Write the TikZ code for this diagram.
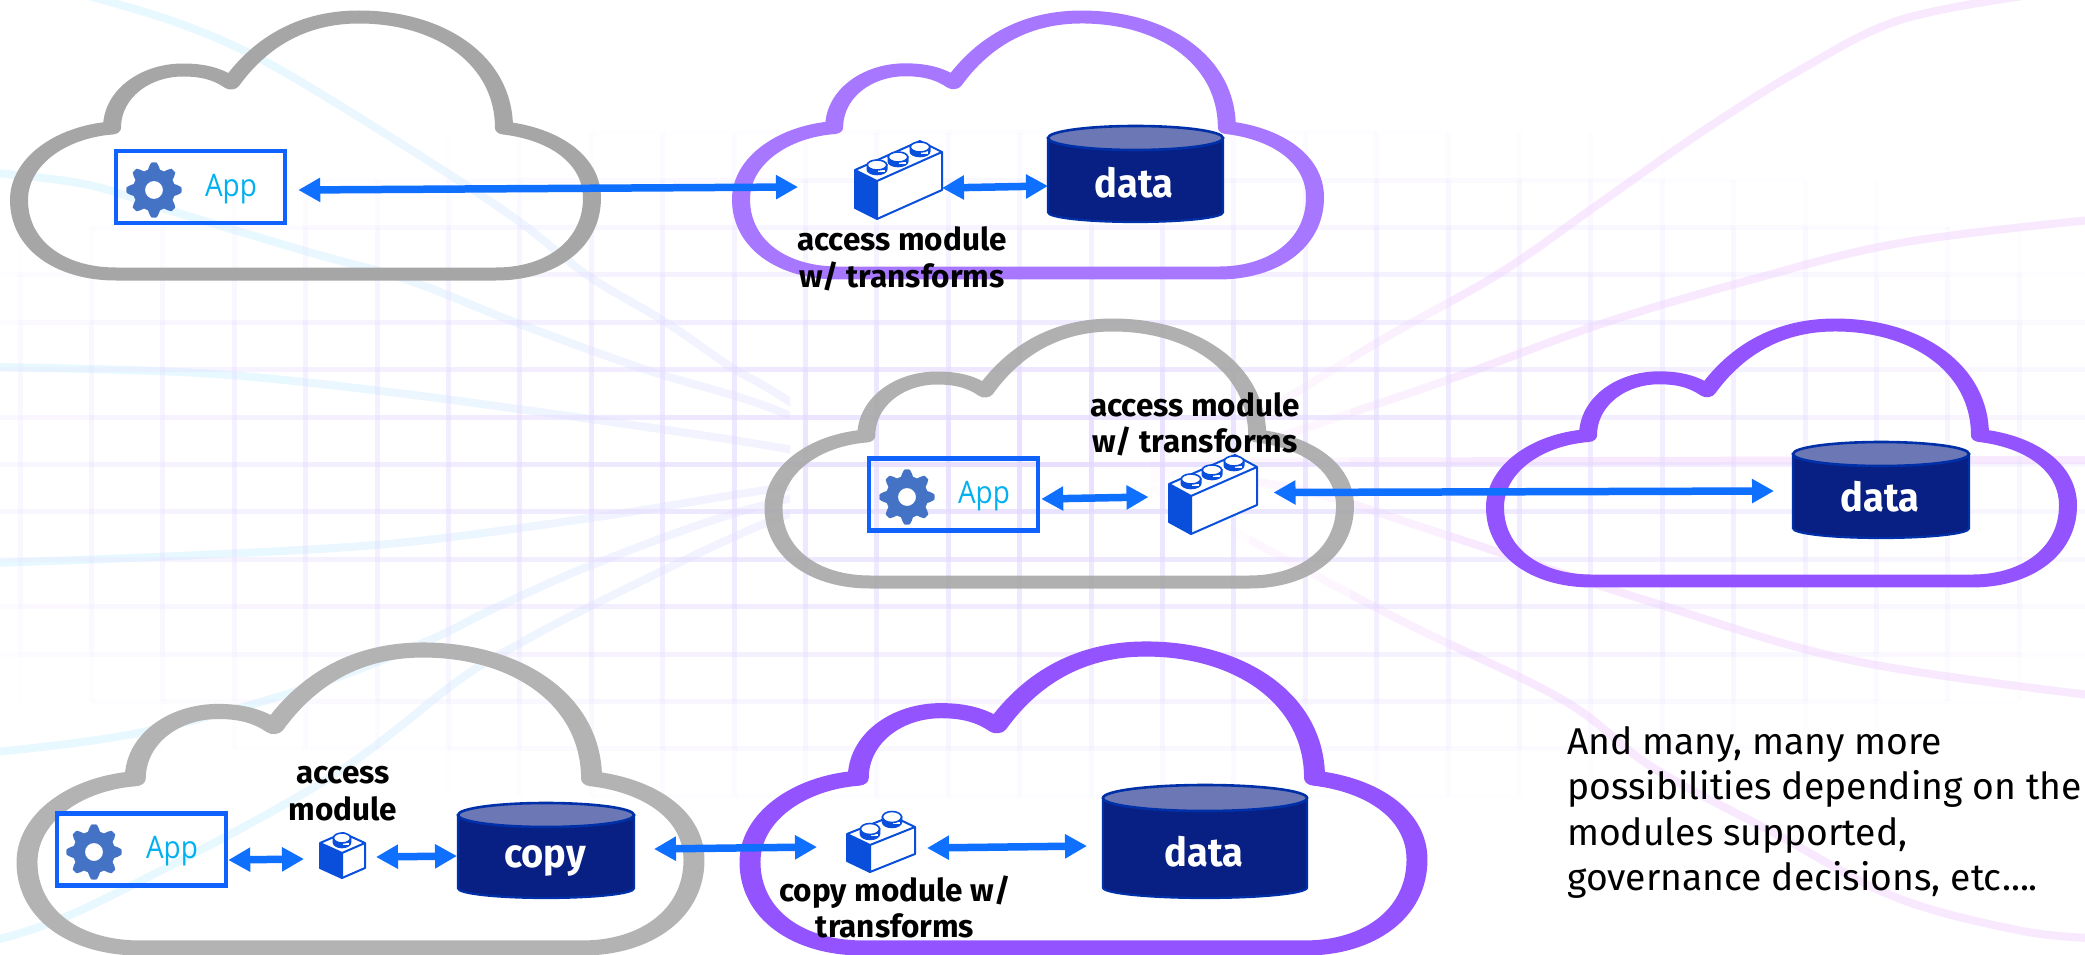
\documentclass[tikz,border=0pt]{standalone}
\usepackage{fontspec}
\setmainfont{Fira Sans}
\newfontfamily\labfont{Fira Sans}
\newfontfamily\dbfont[FakeStretch=0.95]{Fira Sans}
\newfontfamily\appfont[FakeStretch=0.9]{Open Sans}
\usetikzlibrary{arrows.meta,calc}
\definecolor{arrowblue}{HTML}{0F6FFF}
\definecolor{boxblue}{HTML}{0F62FE}
\definecolor{legoblue}{HTML}{0A4FDC}
\definecolor{geargrey}{HTML}{4472C4}
\definecolor{appcyan}{HTML}{00B0F0}
\definecolor{cloudgreyA}{HTML}{A6A6A6}
\definecolor{cloudgreyB}{HTML}{B3B3B3}
\definecolor{cloudviolA}{HTML}{A877FF}
\definecolor{cloudviolB}{HTML}{9353FF}
\definecolor{dbbody}{HTML}{081F83}
\definecolor{dbedge}{HTML}{0030A8}
\definecolor{dbtop}{HTML}{6B78B5}
\definecolor{gridcol}{HTML}{E4DAFF}
\definecolor{cyanline}{HTML}{E8F8FF}
\definecolor{lavline}{HTML}{F4F2FF}
\definecolor{pinkline}{HTML}{F9E9FE}
\tikzset{
  biarrow/.style={draw=arrowblue,line width=7.5pt,{Triangle[length=22pt,width=23pt,fill=arrowblue]}-{Triangle[length=22pt,width=23pt,fill=arrowblue]}},
  appbox/.style={draw=boxblue,line width=4.5pt,inner sep=0pt,minimum width=169pt,minimum height=72pt},
  anchorbox/.style={inner sep=0pt,outer sep=0pt},
  applabel/.style={text=appcyan,font=\appfont\fontsize{31}{31}\selectfont,inner sep=0pt},
  boldlabel/.style={align=center,inner sep=0pt,font=\labfont\bfseries\fontsize{31.5}{36.5}\selectfont,text=black},
  dblabel/.style={text=white,inner sep=0pt,font=\dbfont\bfseries\fontsize{40}{40}\selectfont},
  softcurve/.style={line width=8pt,line cap=round},
}
% cloud in a box (centre line of the stroke); the stretched canvas gives the stroke of the reference
\newcommand\cloudshape[5]{%
  \pgfmathsetmacro\cloudsx{(#3-#1)/414}\pgfmathsetmacro\cloudsy{(#4-#2)/257}%
  \begin{scope}[transform canvas={shift={(#1,#2)},xscale=\cloudsx,yscale=\cloudsy}]
    \draw[#5,line width=13pt,line join=round,x=0.7225pt,y=-1pt]
     (97,257) -- (477,257) .. controls (531,257) and (573,228) .. (573,181)
     .. controls (573,143) and (536,117) .. (485,111)
     .. controls (485,43) and (421,0) .. (340,0)
     .. controls (286,0) and (243,23) .. (212,66)
     .. controls (199,57) and (184,53) .. (164,53)
     .. controls (126,53) and (93,77) .. (93,111)
     .. controls (41,115) and (0,145) .. (0,183)
     .. controls (0,228) and (41,257) .. (97,257) -- cycle;
  \end{scope}}
% gear
\newcommand\gearshape[2]{%
  \fill[geargrey,even odd rule]
    plot[smooth cycle,tension=.25,samples at={0,5.625,...,354.4},variable=\a]
      ({#1+(24.25+3.25*max(-1,min(1,2.4*cos(8*\a))))*cos(\a)},{#2+(24.25+3.25*max(-1,min(1,2.4*cos(8*\a))))*sin(\a)})
    (#1+9,#2) arc[start angle=0,end angle=360,radius=9];}
% cylinder: x0,y0,x1,y1,ry
\newcommand\dbshape[5]{%
  \pgfmathsetmacro\dbrx{(#3-#1)/2}%
  \filldraw[fill=dbbody,draw=dbedge,line width=2.2pt]
    (#1,#2+#5) -- (#3,#2+#5) -- (#3,#4-#5*.8)
    arc[x radius=\dbrx,y radius=#5*.8,start angle=0,end angle=180] -- cycle;
  \filldraw[fill=dbtop,draw=dbedge,line width=2.6pt]
    ({(#1+#3)/2},#2+#5) ellipse[x radius=\dbrx,y radius=#5];}
% stud of a brick: x,y of the top ellipse, rx, ry
\newcommand\studshape[4]{%
  \filldraw[fill=legoblue,draw=legoblue,line width=1.6pt]
    (#1-#3,#2) -- (#1-#3,#2+#4*.9) arc[x radius=#3,y radius=#4,start angle=180,end angle=0] -- (#1+#3,#2) -- cycle;
  \fill[white] (#1+#3*.1,#2+#4*.9) rectangle (#1+#3*.8,#2+#4*1.35);
  \filldraw[fill=white,draw=legoblue,line width=1.6pt] (#1,#2) ellipse[x radius=#3,y radius=#4];}
% brick: left-top x,y, wl, dl, wf, df, h
\newcommand\brickshape[7]{%
  \coordinate (bL) at (#1,#2);
  \coordinate (bM) at (#1+#3,#2+#4);
  \coordinate (bR) at (#1+#3+#5,#2+#4-#6);
  \coordinate (bB) at (#1+#5,#2-#6);
  \filldraw[fill=white,draw=legoblue,line width=2pt,line join=round]
     (bL) -- (bB) -- (bR) -- ($(bR)+(0,#7)$) -- ($(bM)+(0,#7)$) -- ($(bL)+(0,#7)$) -- cycle;
  \draw[legoblue,line width=2pt] (bL) -- (bM) -- (bR) (bM) -- ($(bM)+(0,#7)$);
  \fill[legoblue] (bL) -- (bM) -- ($(bM)+(0,#7)$) -- ($(bL)+(0,#7)$) -- cycle;}
\newcommand\leftcurves[1]{%
  \draw[softcurve,#1] plot[smooth,tension=.6] coordinates {(85,-5) (178,23) (268,63) (400,143) (513,217) (587,275) (667,323) (731,367) (776,393) (880,460)};
  \draw[softcurve,#1] plot[smooth,tension=.6] coordinates {(-5,173) (89,185) (178,213) (312,253) (408,280) (517,323) (647,370) (776,410) (900,470)};
  \draw[softcurve,#1] plot[smooth,tension=.6] coordinates {(-5,367) (199,373) (373,390) (597,420) (776,447) (920,475)};
  \draw[softcurve,#1] plot[smooth,tension=.6] coordinates {(-5,563) (199,555) (398,543) (597,517) (766,490) (920,470)};
  \draw[softcurve,#1] plot[smooth,tension=.6] coordinates {(-5,752) (138,733) (300,690) (423,643) (497,607) (597,563) (746,510) (920,470)};
  \draw[softcurve,#1] plot[smooth,tension=.6] coordinates {(-5,940) (92,905) (321,783) (459,680) (517,645) (597,603) (766,523) (920,470)};}
\newcommand\rightcurves[1]{%
  \draw[softcurve,#1] plot[smooth,tension=.6] coordinates {(2030,-5) (1900,20) (1800,70) (1700,133) (1600,203) (1500,273) (1385,338) (1250,420) (1120,490)};
  \draw[softcurve,#1] plot[smooth,tension=.6] coordinates {(2090,220) (1900,243) (1750,280) (1604,323) (1456,377) (1300,430) (1120,490)};
  \draw[softcurve,#1] (1100,462) -- (2090,460);
  \draw[softcurve,#1] plot[smooth,tension=.6] coordinates {(1120,460) (1300,490) (1440,533) (1645,600) (1850,660) (2090,695)};
  \draw[softcurve,#1] plot[smooth,tension=.6] coordinates {(1120,470) (1250,540) (1400,620) (1563,700) (1652,767) (1774,833) (1895,897) (2017,930) (2090,938)};}
\begin{document}
\begin{tikzpicture}[x=1pt,y=-1pt]
\useasboundingbox (0,0) rectangle (2085,955);
\fill[white] (0,0) rectangle (2085,955);
% ---------- background curves
\foreach \bx/\mixa in {-10/0,90/0,190/0,290/15,390/35,490/55,590/75,690/90}{
  \begin{scope}
    \clip (\bx,-10) rectangle (\bx+100,965);
    \leftcurves{lavline!\mixa!cyanline}
  \end{scope}}
\foreach \bx/\mixa in {1150/15,1250/40,1350/70,1450/100}{
  \begin{scope}
    \clip (\bx,-10) rectangle (\bx+100,965);
    \rightcurves{pinkline!\mixa!white}
  \end{scope}}
\begin{scope}
  \clip (1550,-10) rectangle (2095,965);
  \rightcurves{pinkline}
\end{scope}
% ---------- background grid, fading away from the middle
\foreach \kx in {0,...,28}{
  \foreach \ky in {-1,...,13}{
    \pgfmathsetmacro\gx{20+71.4*\kx}
    \pgfmathsetmacro\gya{180+47.4*\ky}
    \pgfmathsetmacro\gyb{\gya+47.4}
    \pgfmathsetmacro\gop{0.85*max(0,1-sqrt(((\gx-1042)/1350)^2+((\gya+23.7-465)/360)^2))}
    \ifdim\gop pt>0.02pt
      \draw[gridcol,line width=5pt,opacity=\gop] (\gx,\gya) -- (\gx,\gyb);
    \fi
  }}
\foreach \ky in {-1,...,13}{
  \foreach \kx in {-1,...,28}{
    \pgfmathsetmacro\gxa{20+71.4*\kx}
    \pgfmathsetmacro\gxb{\gxa+71.4}
    \pgfmathsetmacro\gy{180+47.4*\ky}
    \pgfmathsetmacro\gop{0.85*max(0,1-sqrt(((\gxa+35.7-1042)/1350)^2+((\gy-465)/360)^2))}
    \ifdim\gop pt>0.02pt
      \draw[gridcol,line width=5pt,opacity=\gop] (\gxa,\gy) -- (\gxb,\gy);
    \fi
  }}
% ---------- clouds
\cloudshape{19}{17}{592}{274}{cloudgreyA}
\cloudshape{741}{17}{1315}{273}{cloudviolA}
\cloudshape{773.5}{325}{1345}{582}{cloudgreyA,opacity=.88}
\cloudshape{1495}{325}{2068}{581}{cloudviolB}
\cloudshape{27}{650}{694}{948}{cloudgreyB}
\cloudshape{750}{649}{1417}{948}{cloudviolB}
% ---------- top row
\node[appbox] (appA) at (200.5,187) {};
\gearshape{154}{190}
\node[applabel] (appAt) at (231,189) {App};
\brickshape{855}{170}{22}{11}{65}{29}{38}
\studshape{877}{165}{9.7}{5}
\studshape{898}{157}{9.7}{5}
\studshape{920}{147}{9.7}{5}
\node[anchorbox,minimum width=87pt,minimum height=78pt] (modA) at (898.5,181) {};
\dbshape{1048}{126}{1223}{222}{12}
\node[anchorbox,minimum width=175pt,minimum height=98pt] (dbA) at (1135.5,174) {};
\node[dblabel] (dbAt) at (1134,183) {data};
\node[boldlabel] (labA) at (902,259) {access module\\w/ transforms};
\draw[biarrow] ([xshift=11pt,yshift=-3pt]appA.east) -- ([xshift=-57pt,yshift=-6pt]modA.west);
\draw[biarrow] ([yshift=-7pt]modA.east) -- ([yshift=-12pt]dbA.west);
% ---------- middle row
\node[appbox] (appB) at (953.5,494.5) {};
\gearshape{907}{497}
\node[applabel] (appBt) at (984,496) {App};
\brickshape{1169}{484}{22}{12}{66}{29}{38}
\studshape{1191}{479}{9.7}{5}
\studshape{1212}{470}{9.7}{5}
\studshape{1234}{461}{9.7}{5}
\node[anchorbox,minimum width=88pt,minimum height=79pt] (modB) at (1212.5,492.5) {};
\dbshape{1793}{442}{1969}{538}{12}
\node[anchorbox,minimum width=176pt,minimum height=98pt] (dbB) at (1881,490) {};
\node[dblabel] (dbBt) at (1880,497) {data};
\node[boldlabel] (labB) at (1195,424.5) {access module\\w/ transforms};
\draw[biarrow] ([xshift=1pt,yshift=-4.5pt]appB.east) -- ([xshift=-20pt,yshift=-4.5pt]modB.west);
\draw[biarrow] ([xshift=17pt,yshift=0pt]modB.east) -- ([xshift=-19pt,yshift=-1pt]dbB.west);
% ---------- bottom row
\node[appbox] (appC) at (141.5,849.5) {};
\gearshape{94}{852}
\node[applabel] (appCt) at (172,851) {App};
\brickshape{320}{843}{22}{10}{23}{10}{25}
\studshape{342}{838}{8.5}{5}
\node[anchorbox,minimum width=45pt,minimum height=48pt] (modC) at (342.5,855) {};
\dbshape{458}{803}{634}{898}{12}
\node[anchorbox,minimum width=176pt,minimum height=97pt] (dbC) at (546,850.5) {};
\node[dblabel] (dbCt) at (545,861) {copy};
\node[boldlabel] (labC) at (343,793.5) {access\\module};
\brickshape{847}{834}{23}{11}{45}{18}{27}
\studshape{870}{829}{9.5}{5.5}
\studshape{892}{817}{9.5}{5.5}
\node[anchorbox,minimum width=68pt,minimum height=59pt] (modD) at (881,842.5) {};
\dbshape{1103}{785}{1307}{898}{13}
\node[anchorbox,minimum width=204pt,minimum height=115pt] (dbD) at (1205,841.5) {};
\node[dblabel] (dbDt) at (1204,852) {data};
\node[boldlabel] (labD) at (895,907) {copy module w/\\transforms};
\draw[biarrow] ([yshift=-10.5pt]appC.east) -- ([xshift=-16pt,yshift=-4pt]modC.west);
\draw[biarrow] ([xshift=11pt,yshift=-2pt]modC.east) -- ([xshift=-1pt,yshift=-5.5pt]dbC.west);
\draw[biarrow] ([xshift=20pt,yshift=1.5pt]dbC.east) -- ([xshift=-30pt,yshift=-4.5pt]modD.west);
\draw[biarrow] ([xshift=12pt,yshift=-5.5pt]modD.east) -- ([xshift=-16pt,yshift=-4.5pt]dbD.west);
% ---------- note
\node[anchor=north west,align=left,inner sep=0pt,font=\labfont\fontsize{37.3}{45.5}\selectfont] (note) at (1567,726)
  {And many, many more\\possibilities depending on the\\modules supported,\\governance decisions, etc....};
\end{tikzpicture}
\end{document}
